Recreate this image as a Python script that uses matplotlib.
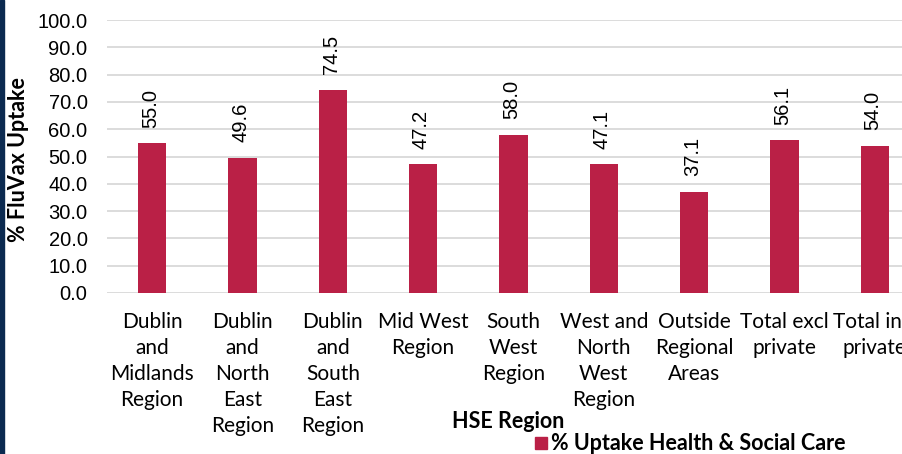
import matplotlib.pyplot as plt
import matplotlib.patches as mpatches

regions = ['Dublin\nand\nMidlands\nRegion', 'Dublin\nand\nNorth\nEast\nRegion',
           'Dublin\nand\nSouth\nEast\nRegion', 'Mid West\nRegion', 'South\nWest\nRegion',
           'West and\nNorth\nWest\nRegion', 'Outside\nRegional\nAreas',
           'Total excl\nprivate', 'Total incl\nprivate']
uptake = [55.0, 49.6, 74.5, 47.2, 58.0, 47.1, 37.1, 56.1, 54.0]
yticks = [0, 10, 20, 30, 40, 50, 60, 70, 80, 90, 100]

bar_color = '#BA2046'
W, H = 902, 454

fig = plt.figure(figsize=(W / 100, H / 100), dpi=100)
fig.patches.append(mpatches.Rectangle((0, 0), 4 / W, 1, transform=fig.transFigure,
                                      color='#0B2A50', zorder=0))

ax = fig.add_axes([107 / W, (454 - 293) / H, 813 / W, 273 / H])
x = range(len(uptake))
ax.bar(x, uptake, width=0.31, color=bar_color, zorder=3)
ax.set_xlim(-0.5, len(uptake) - 0.5)
ax.set_ylim(0, 100)
ax.set_yticks(yticks)
ax.set_yticklabels(['%.1f' % v for v in yticks], fontsize=14.5, family='Liberation Sans')
ax.set_xticks(list(x))
ax.set_xticklabels(regions, fontsize=15, family='Lato', linespacing=1.37, va='top')
ax.tick_params(axis='both', length=0)
ax.tick_params(axis='x', pad=14)
ax.tick_params(axis='y', pad=14)
ax.grid(axis='y', color='#D9D9D9', linewidth=1.3, zorder=0)
for s in ax.spines.values():
    s.set_visible(False)

for i, v in enumerate(uptake):
    ax.text(i - 0.02, v + 5.6, '%.1f' % v, rotation=90, ha='center', va='bottom',
            fontsize=14.5, family='Liberation Sans', clip_on=False)

fig.text(19 / W, 1 - 160 / H, '% FluVax Uptake', rotation=90, ha='center', va='center',
         fontsize=15.5, fontweight='bold', family='Lato')
fig.text(508 / W, 1 - 422 / H, 'HSE Region', ha='center', va='center',
         fontsize=15.5, fontweight='bold', family='Lato')
fig.patches.append(mpatches.Rectangle((535 / W, 1 - 449 / H), 12 / W, 12 / H,
                                      transform=fig.transFigure, color=bar_color))
fig.text(551 / W, 1 - 443 / H, '% Uptake Health & Social Care', ha='left', va='center',
         fontsize=15.5, fontweight='bold', family='Lato')

fig.savefig('out.png', dpi=100)
